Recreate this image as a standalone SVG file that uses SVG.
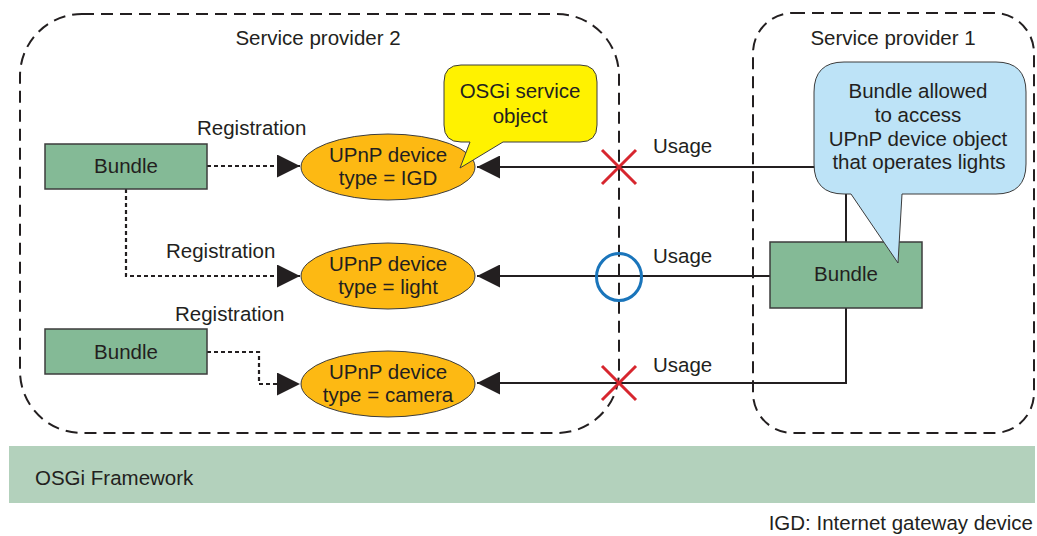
<svg xmlns="http://www.w3.org/2000/svg" width="1037" height="536" viewBox="0 0 1037 536">
<style>
text{font-family:"Liberation Sans",Arial,Helvetica,sans-serif;font-size:20.5px;fill:#231f20}
.c{text-anchor:middle}
.sp{fill:none;stroke:#231f20;stroke-width:2;stroke-dasharray:12 7}
.bundle{fill:#84ba96;stroke:#3c3c3c;stroke-width:1.5}
.ell{fill:#fdb913;stroke:#3c3c3c;stroke-width:1}
.dot{fill:none;stroke:#231f20;stroke-width:2.2;stroke-dasharray:4 3}
.sol{fill:none;stroke:#231f20;stroke-width:2}
.x{stroke:#d7262e;stroke-width:3;fill:none}
</style>
<defs>
<marker id="ah" viewBox="0 0 23 23" refX="23" refY="11.5" markerWidth="23" markerHeight="23" markerUnits="userSpaceOnUse" orient="auto">
<path d="M0,0 L23,11.5 L0,23 Z" fill="#231f20"/>
</marker>
</defs>

<g id="framework">
<rect x="9" y="446" width="1026" height="57" fill="#b3d1bc"/>
<text x="35" y="485">OSGi Framework</text>
</g>

<g id="sp2">
<rect class="sp" x="20" y="14" width="599" height="419" rx="62" ry="62"/>
<text class="c" x="318" y="45">Service provider 2</text>
</g>
<g id="sp1">
<rect class="sp" x="753" y="13" width="281" height="420" rx="40" ry="40"/>
<text class="c" x="893" y="45">Service provider 1</text>
</g>

<g id="connectors">
<path class="dot" d="M207,166 H300" marker-end="url(#ah)"/>
<path class="dot" d="M126,189 V276 H300" marker-end="url(#ah)"/>
<path class="dot" d="M207,352 H259 V384 H300" marker-end="url(#ah)"/>
<path class="sol" d="M846,242 V167 H477" marker-end="url(#ah)"/>
<path class="sol" d="M770,276 H477" marker-end="url(#ah)"/>
<path class="sol" d="M846,308 V383 H477" marker-end="url(#ah)"/>
<text x="197" y="135">Registration</text>
<text x="166" y="258">Registration</text>
<text x="175" y="321">Registration</text>
<text x="653" y="153">Usage</text>
<text x="653" y="263">Usage</text>
<text x="653" y="372">Usage</text>
</g>

<g id="bundle1">
<rect class="bundle" x="45" y="144" width="162" height="45"/>
<text class="c" x="126" y="173">Bundle</text>
</g>
<g id="bundle2">
<rect class="bundle" x="45" y="329" width="162" height="45"/>
<text class="c" x="126" y="359">Bundle</text>
</g>
<g id="bundle3">
<rect class="bundle" x="770" y="242" width="152" height="66"/>
<text class="c" x="846" y="281">Bundle</text>
</g>

<g id="upnp-igd">
<ellipse class="ell" cx="388" cy="167" rx="87" ry="33"/>
<text class="c" x="388" y="162">UPnP device</text>
<text class="c" x="388" y="185">type = IGD</text>
</g>
<g id="upnp-light">
<ellipse class="ell" cx="388" cy="276" rx="87" ry="33"/>
<text class="c" x="388" y="271">UPnP device</text>
<text class="c" x="388" y="294">type = light</text>
</g>
<g id="upnp-camera">
<ellipse class="ell" cx="388" cy="384" rx="87" ry="33"/>
<text class="c" x="388" y="379">UPnP device</text>
<text class="c" x="388" y="402">type = camera</text>
</g>

<g id="marks">
<path class="x" d="M602,150 L636,184 M636,150 L602,184"/>
<ellipse cx="619" cy="277" rx="22.5" ry="23.5" fill="none" stroke="#1a75bb" stroke-width="3"/>
<path class="x" d="M602,366 L636,400 M636,366 L602,400"/>
</g>

<g id="callout-osgi">
<path d="M461,65 H580 Q597,65 597,82 V125 Q597,142 580,142 H503 L460,168 L470,142 H461 Q444,142 444,125 V82 Q444,65 461,65 Z" fill="#fff200" stroke="#3c3c3c" stroke-width="1"/>
<text class="c" x="520" y="98">OSGi service</text>
<text class="c" x="520" y="123">object</text>
</g>

<g id="callout-allowed">
<path d="M844,62 H996 Q1026,62 1026,92 V164 Q1026,194 996,194 H902 L898,263 L851,194 H844 Q814,194 814,164 V92 Q814,62 844,62 Z" fill="#bde3f7" stroke="#3c3c3c" stroke-width="1"/>
<text class="c" x="918" y="98">Bundle allowed</text>
<text class="c" x="918" y="122">to access</text>
<text class="c" x="918" y="146">UPnP device object</text>
<text class="c" x="919" y="169">that operates lights</text>
</g>

<g id="note">
<text x="1033" y="530" text-anchor="end">IGD: Internet gateway device</text>
</g>
</svg>
